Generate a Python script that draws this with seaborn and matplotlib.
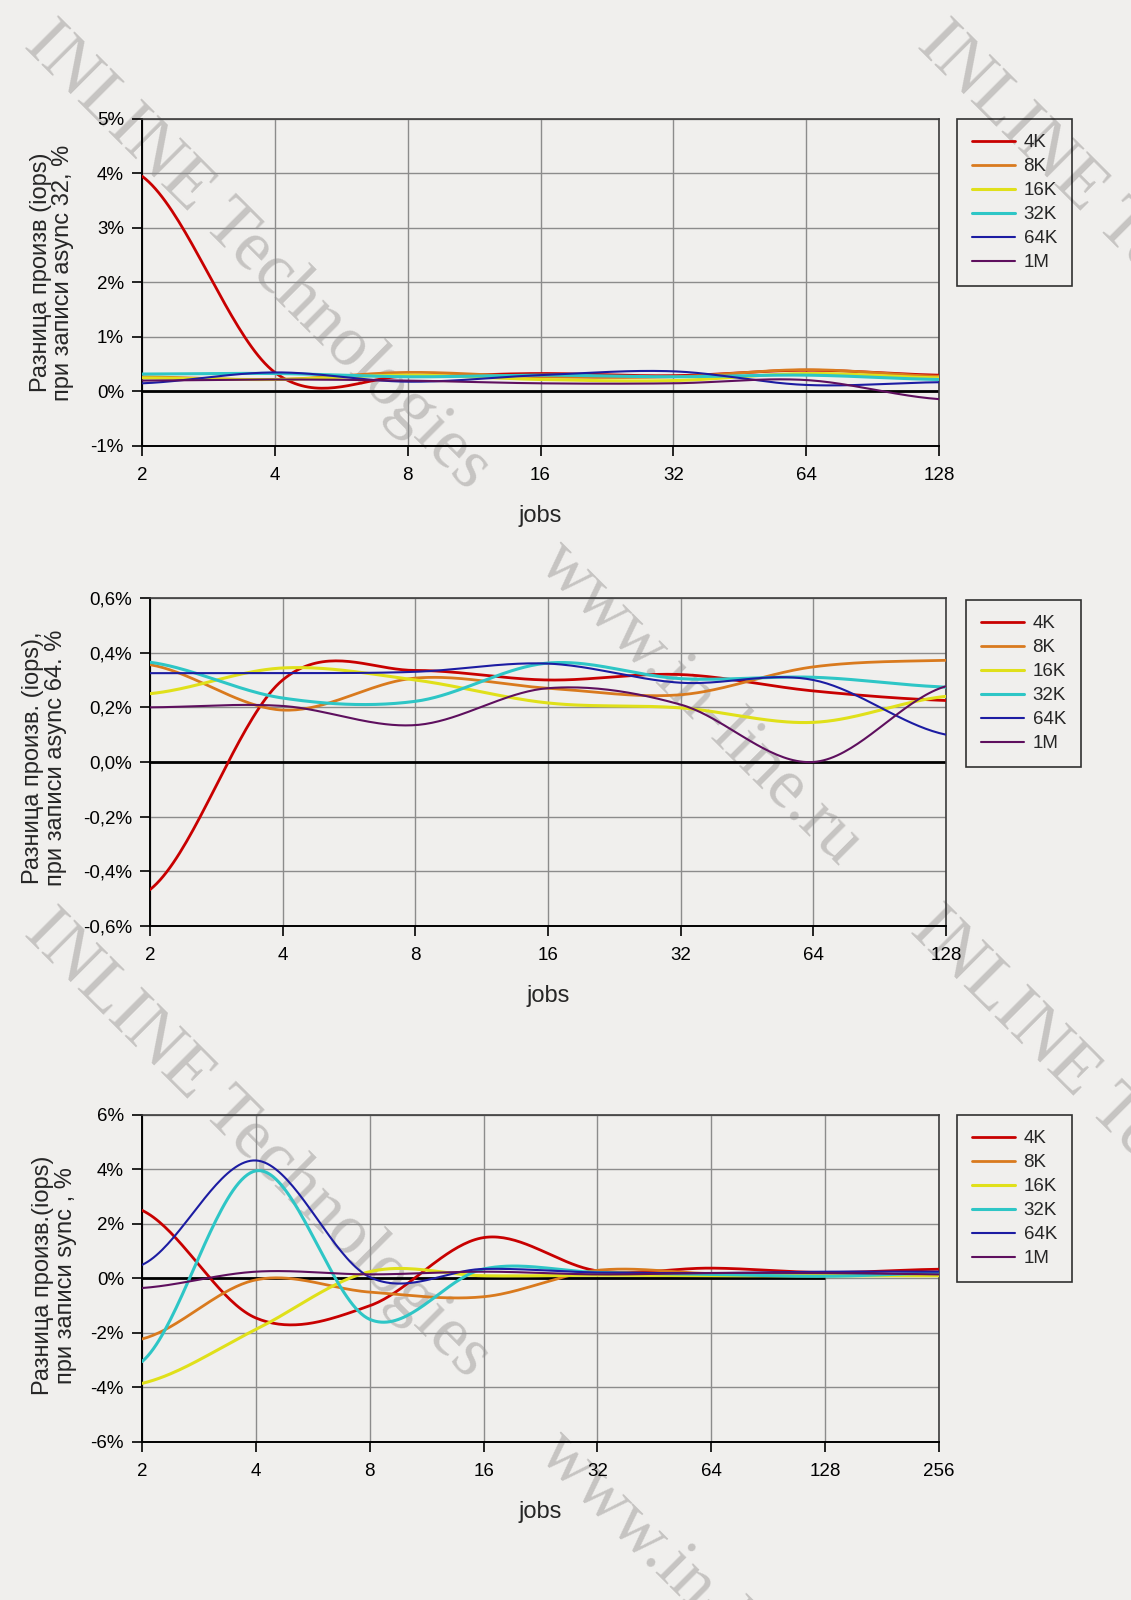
import numpy as np
import matplotlib
matplotlib.use("Agg")
import matplotlib.pyplot as plt
import seaborn as sns

# ---------------- data ----------------
SERIES = ["4K", "8K", "16K", "32K", "64K", "1M"]

JOBS_A32 = [2, 4, 8, 16, 32, 64, 128]
A32_4K = [3.95, 0.35, 0.28, 0.33, 0.29, 0.39, 0.30]
A32_8K = [0.27, 0.22, 0.35, 0.27, 0.27, 0.40, 0.28]
A32_16K = [0.25, 0.22, 0.30, 0.22, 0.20, 0.33, 0.25]
A32_32K = [0.32, 0.33, 0.27, 0.30, 0.27, 0.30, 0.22]
A32_64K = [0.15, 0.35, 0.18, 0.30, 0.37, 0.12, 0.17]
A32_1M = [0.20, 0.22, 0.20, 0.15, 0.15, 0.21, -0.14]

JOBS_A64 = [2, 4, 8, 16, 32, 64, 128]
A64_4K = [-0.467, 0.30, 0.335, 0.30, 0.32, 0.26, 0.225]
A64_8K = [0.356, 0.19, 0.307, 0.27, 0.246, 0.348, 0.372]
A64_16K = [0.25, 0.344, 0.30, 0.216, 0.198, 0.145, 0.24]
A64_32K = [0.365, 0.234, 0.222, 0.362, 0.305, 0.31, 0.274]
A64_64K = [0.325, 0.325, 0.33, 0.36, 0.29, 0.30, 0.10]
A64_1M = [0.20, 0.205, 0.135, 0.27, 0.21, 0.0, 0.277]

JOBS_SYNC = [2, 4, 8, 16, 32, 64, 128, 256]
SYNC_4K = [2.5, -1.45, -1.0, 1.5, 0.28, 0.38, 0.22, 0.34]
SYNC_8K = [-2.22, -0.05, -0.5, -0.67, 0.30, 0.18, 0.15, 0.15]
SYNC_16K = [-3.85, -1.87, 0.25, 0.10, 0.12, 0.10, 0.10, 0.10]
SYNC_32K = [-3.05, 3.95, -1.5, 0.35, 0.22, 0.15, 0.08, 0.20]
SYNC_64K = [0.5, 4.33, 0.05, 0.35, 0.22, 0.20, 0.25, 0.25]
SYNC_1M = [-0.35, 0.25, 0.15, 0.25, 0.15, 0.20, 0.20, 0.15]
SYNC_ZERO_END = 128

YTICKS_A32 = [-1, 0, 1, 2, 3, 4, 5]
YLABELS_A32 = ["-1%", "0%", "1%", "2%", "3%", "4%", "5%"]
YTICKS_A64 = [-0.6, -0.4, -0.2, 0.0, 0.2, 0.4, 0.6]
YLABELS_A64 = ["-0,6%", "-0,4%", "-0,2%", "0,0%", "0,2%", "0,4%", "0,6%"]
YTICKS_SYNC = [-6, -4, -2, 0, 2, 4, 6]
YLABELS_SYNC = ["-6%", "-4%", "-2%", "0%", "2%", "4%", "6%"]

YTITLE_A32 = "Разница произв (iops)\nпри записи async 32, %"
YTITLE_A64 = "Разница произв. (iops),\nпри записи async 64. %"
YTITLE_SYNC = "Разница произв.(iops)\nпри записи sync , %"
XTITLE = "jobs"

# ---------------- style ----------------
BG = "#f0efed"
COLORS = {"4K": "#c80000", "8K": "#d97a1e", "16K": "#e0e01a",
          "32K": "#2ec6c6", "64K": "#1c1ca2", "1M": "#5e0f5e"}
WIDTHS = {"4K": 2.0, "8K": 2.0, "16K": 2.2, "32K": 2.2, "64K": 1.5, "1M": 1.5}

sns.set_style("white")
plt.rcParams["font.family"] = ["Liberation Sans", "DejaVu Sans"]
plt.rcParams["axes.unicode_minus"] = False


def smooth(xs, ys, n=40):
    """Excel-like smoothed line (cardinal spline in log2 space)."""
    u = np.log2(np.asarray(xs, float))
    y = np.asarray(ys, float)
    k = len(u)
    m = np.empty(k)
    m[1:-1] = (y[2:] - y[:-2]) / (u[2:] - u[:-2])
    m[0] = 0.5 * (y[1] - y[0]) / (u[1] - u[0])
    m[-1] = 0.5 * (y[-1] - y[-2]) / (u[-1] - u[-2])
    uu, yy = [], []
    for i in range(k - 1):
        h = u[i + 1] - u[i]
        t = np.linspace(0, 1, n, endpoint=(i == k - 2))
        h00 = 2 * t**3 - 3 * t**2 + 1
        h10 = t**3 - 2 * t**2 + t
        h01 = -2 * t**3 + 3 * t**2
        h11 = t**3 - t**2
        yy.append(h00 * y[i] + h10 * h * m[i] + h01 * y[i + 1] + h11 * h * m[i + 1])
        uu.append(u[i] + t * h)
    return 2 ** np.concatenate(uu), np.concatenate(yy)


fig = plt.figure(figsize=(11.31, 16), dpi=100, facecolor=BG)

panels = [
    dict(rect=[0.1256, 0.72125, 0.7047, 0.2044], jobs=JOBS_A32,
         data=[A32_4K, A32_8K, A32_16K, A32_32K, A32_64K, A32_1M],
         yt=YTICKS_A32, yl=YLABELS_A32, title=YTITLE_A32, ylab=(-0.113, 0.53),
         leg=(957 / 1131, 1 - 119 / 1600), zero_end=None),
    dict(rect=[0.1326, 0.42125, 0.7038, 0.2050], jobs=JOBS_A64,
         data=[A64_4K, A64_8K, A64_16K, A64_32K, A64_64K, A64_1M],
         yt=YTICKS_A64, yl=YLABELS_A64, title=YTITLE_A64, ylab=(-0.133, 0.512),
         leg=(966 / 1131, 1 - 600 / 1600), zero_end=None),
    dict(rect=[0.1256, 0.09875, 0.7047, 0.2044], jobs=JOBS_SYNC,
         data=[SYNC_4K, SYNC_8K, SYNC_16K, SYNC_32K, SYNC_64K, SYNC_1M],
         yt=YTICKS_SYNC, yl=YLABELS_SYNC, title=YTITLE_SYNC, ylab=(-0.110, 0.51),
         leg=(957 / 1131, 1 - 1115 / 1600), zero_end=SYNC_ZERO_END),
]

for p in panels:
    ax = fig.add_axes(p["rect"])
    ax.set_facecolor("none")
    ax.set_xscale("log", base=2)
    jobs = p["jobs"]
    ax.set_xlim(jobs[0], jobs[-1])
    ax.set_ylim(p["yt"][0], p["yt"][-1])
    ax.set_xticks(jobs)
    ax.set_xticklabels([str(j) for j in jobs])
    ax.xaxis.set_minor_locator(matplotlib.ticker.NullLocator())
    ax.set_yticks(p["yt"])
    ax.set_yticklabels(p["yl"])
    ax.grid(True, color="#8c8c8c", linewidth=1.0, zorder=0)
    ax.set_axisbelow(True)

    # zero line
    if p["zero_end"] is None:
        ax.axhline(0, color="black", linewidth=2.0, zorder=2)
    else:
        ax.hlines(0, jobs[0], p["zero_end"], color="black", linewidth=2.0, zorder=2)

    for name, vals in zip(SERIES, p["data"]):
        sx, sy = smooth(jobs, vals)
        sns.lineplot(x=sx, y=sy, ax=ax, color=COLORS[name], linewidth=WIDTHS[name],
                     label=name, sort=False, estimator=None, zorder=3)

    for s in ["top", "right"]:
        ax.spines[s].set_color("#3c3c3c")
        ax.spines[s].set_linewidth(1.2)
    for s in ["left", "bottom"]:
        ax.spines[s].set_color("black")
        ax.spines[s].set_linewidth(1.4)

    ax.tick_params(axis="x", direction="out", length=7, width=1.2, colors="black",
                   labelsize=13.5, pad=8, top=False, bottom=True)
    ax.tick_params(axis="y", direction="out", length=7, width=1.2, colors="black",
                   labelsize=13.5, pad=6, left=True, right=False)

    ax.set_xlabel(XTITLE, fontsize=17)
    ax.xaxis.set_label_coords(0.5, -0.214)
    ax.xaxis.label.set_va("center")
    ax.set_ylabel(p["title"], fontsize=17, linespacing=1.05, ha="center")
    ax.yaxis.set_label_coords(p["ylab"][0], p["ylab"][1])
    ax.yaxis.label.set_va("center")

    leg = ax.legend(loc="upper left", bbox_to_anchor=p["leg"],
                    bbox_transform=fig.transFigure, borderaxespad=0,
                    frameon=True, fancybox=False, fontsize=13.5,
                    handlelength=2.3, handletextpad=0.45, labelspacing=0.37,
                    borderpad=0.8)
    fr = leg.get_frame()
    fr.set_facecolor("none")
    fr.set_edgecolor("black")
    fr.set_linewidth(1.2)
    leg.set_zorder(5)

# ---------------- watermarks ----------------
WM_FONT = dict(family=["Liberation Serif", "DejaVu Serif"], fontsize=51,
               color="#c6c4c2", rotation=-45, rotation_mode="anchor",
               ha="center", va="center", zorder=-1)
for (cx, cy), txt in [((257, 257), "INLINE Technologies"),
                      ((1150, 257), "INLINE Technologies"),
                      ((257, 1145), "INLINE Technologies"),
                      ((1143, 1142), "INLINE Technologies"),
                      ((700, 703), "www.in-line.ru"),
                      ((700, 1593), "www.in-line.ru")]:
    fig.text(cx / 1131, 1 - cy / 1600, txt, **WM_FONT)

fig.savefig("out.png", dpi=100, facecolor=BG)
